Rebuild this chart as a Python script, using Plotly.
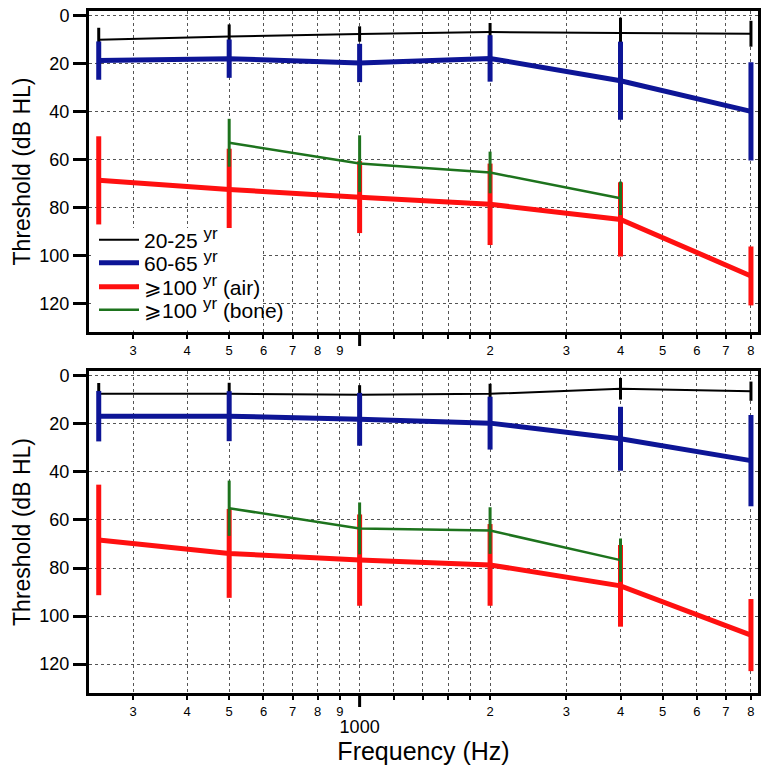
import numpy as np
import plotly.graph_objects as go
from plotly.subplots import make_subplots

freqs = [250, 500, 1000, 2000, 4000, 8000]
bone_freqs = [500, 1000, 2000, 4000]

# Top panel values (dB HL) and error half-widths
top_young = [10, 8.6, 7.6, 6.8, 7.2, 7.5]
top_young_err = [5, 5, 3.2, 3.8, 6.4, 5.4]
top_mid = [18.7, 17.9, 19.7, 17.8, 27.1, 39.9]
top_mid_err = [8, 8, 8, 9.7, 16.3, 20.5]
top_air = [68.7, 72.5, 75.7, 78.7, 85, 108.6]
top_air_err = [18.4, 17, 15, 17, 15.5, 12.3]
top_bone = [53, 61.7, 65.4, 76.2]
top_bone_err = [10, 11.8, 8.7, 7]

# Bottom panel values
bot_young = [7.5, 7.5, 7.9, 7.5, 5.4, 6.4]
bot_young_err = [4.5, 4.6, 4, 4.2, 4.5, 4]
bot_mid = [16.8, 16.8, 18.1, 19.7, 26.2, 35.3]
bot_mid_err = [10.5, 10.4, 11, 11, 13.3, 19]
bot_air = [68.3, 73.9, 76.7, 78.7, 87.4, 107.9]
bot_air_err = [23, 18.5, 19, 17, 17, 15]
bot_bone = [55.1, 63.5, 64.4, 76.7]
bot_bone_err = [11.5, 10.8, 9.7, 9]

YR = "<sup><span style='font-size:17px'>yr</span></sup>"
series_names = ["20-25 " + YR, "60-65 " + YR,
                "\u2a7e100 " + YR + " (air)", "\u2a7e100 " + YR + " (bone)"]

x_tickvals = [300, 400, 500, 600, 700, 800, 900, 1000, 1200, 1400, 1600, 1800,
              2000, 3000, 4000, 5000, 6000, 7000, 8000]
x_ticktext_top = ["3", "4", "5", "6", "7", "8", "9", "", "", "", "", "",
                  "2", "3", "4", "5", "6", "7", "8"]
x_ticktext_bot = ["3", "4", "5", "6", "7", "8", "9",
                  "<br><span style='font-size:18px'>1000</span>", "", "", "", "",
                  "2", "3", "4", "5", "6", "7", "8"]
y_tickvals = [0, 20, 40, 60, 80, 100, 120]

BLACK = "#000000"
BLUE = "#0d1596"
RED = "#ff1010"
GREEN = "#1d731d"

styles = [
    (BLACK, 2, 3),
    (BLUE, 5, 5),
    (RED, 5, 5),
    (GREEN, 2.5, 3),
]

W, H = 768, 775
ML, MR, MT, MB = 89, 10, 11, 82
ph = H - MT - MB
pw = W - ML - MR
top_dom = [(693 - 332) / ph, 1.0]
bot_dom = [0.0, (693 - 371) / ph]

fig = make_subplots(rows=2, cols=1)

panels = [
    (1, [(freqs, top_young, top_young_err), (freqs, top_mid, top_mid_err),
         (freqs, top_air, top_air_err), (bone_freqs, top_bone, top_bone_err)]),
    (2, [(freqs, bot_young, bot_young_err), (freqs, bot_mid, bot_mid_err),
         (freqs, bot_air, bot_air_err), (bone_freqs, bot_bone, bot_bone_err)]),
]

legend_ids = ["legend", "legend2", "legend3", "legend4"]

for row, data in panels:
    for i, (xs, ys, es) in enumerate(data):
        color, lw, ew = styles[i]
        fig.add_trace(go.Scatter(
            x=xs, y=ys, mode="lines", name=series_names[i],
            line=dict(color=color, width=lw),
            error_y=dict(type="data", array=es, symmetric=True,
                         color=color, thickness=ew, width=0),
            showlegend=(row == 1), legend=legend_ids[i],
        ), row=row, col=1)

font_family = "Liberation Sans, Arial, sans-serif"
xr = [np.log10(237.4), np.log10(8305)]

common_x = dict(type="log", range=xr, tickmode="array", tickvals=x_tickvals,
                tickangle=0,
                showline=True, mirror=True, linecolor="black", linewidth=3,
                ticks="outside", ticklen=4, tickwidth=1.5, tickcolor="black",
                showgrid=True, gridcolor="#555555", griddash="dot", gridwidth=1,
                zeroline=False, tickfont=dict(size=13, color="black", family=font_family))
common_y = dict(range=[132, -2], tickmode="array", tickvals=y_tickvals,
                showline=True, mirror=True, linecolor="black", linewidth=3,
                ticks="outside", ticklen=13, tickwidth=3, tickcolor="black",
                showgrid=True, gridcolor="#555555", griddash="dot", gridwidth=1,
                zeroline=False,
                tickfont=dict(size=18, color="black", family=font_family))

fig.update_xaxes(**common_x)
fig.update_yaxes(**common_y)
fig.update_xaxes(ticktext=x_ticktext_top, row=1, col=1)
fig.update_xaxes(ticktext=x_ticktext_bot, row=2, col=1,
                 title=dict(text="Frequency (Hz)", standoff=5,
                            font=dict(size=25, color="black", family=font_family)))
fig.update_yaxes(title=dict(text="Threshold (dB HL)", standoff=3,
                            font=dict(size=23, color="black", family=font_family)))

legend_centers = [240, 263, 287, 310]
legend_common = dict(x=5 / pw, xanchor="left", yanchor="middle",
                     bgcolor="rgba(0,0,0,0)", borderwidth=0, itemwidth=40,
                     font=dict(size=21, color="black", family=font_family))
legend_layout = {}
for lid, cy in zip(legend_ids, legend_centers):
    legend_layout[lid] = dict(y=(693 - cy) / ph, **legend_common)

fig.update_layout(
    width=W, height=H,
    margin=dict(l=ML, r=MR, t=MT, b=MB, autoexpand=False),
    paper_bgcolor="white", plot_bgcolor="white",
    font=dict(family=font_family, color="black"),
    yaxis=dict(domain=top_dom),
    yaxis2=dict(domain=bot_dom),
    **legend_layout,
)

# white box behind the legend (hides grid lines there), kept inside the frame
fig.add_shape(type="rect", xref="paper", yref="paper",
              x0=(91 - ML) / pw, x1=(263 - ML) / pw,
              y0=(693 - 330.5) / ph, y1=(693 - 228) / ph,
              fillcolor="white", line=dict(width=0), layer="above")

# longer major tick at 1000 Hz on each panel
for xref, yref, dom in [("x", "y domain", top_dom), ("x2", "y2 domain", bot_dom)]:
    plen = (dom[1] - dom[0]) * ph
    fig.add_shape(type="line", xref=xref, yref=yref, x0=1000, x1=1000,
                  y0=0, y1=-14 / plen, line=dict(color="black", width=3))

fig.write_html("out.html", config={"displayModeBar": False},
               post_script="document.body.style.margin='0';")
